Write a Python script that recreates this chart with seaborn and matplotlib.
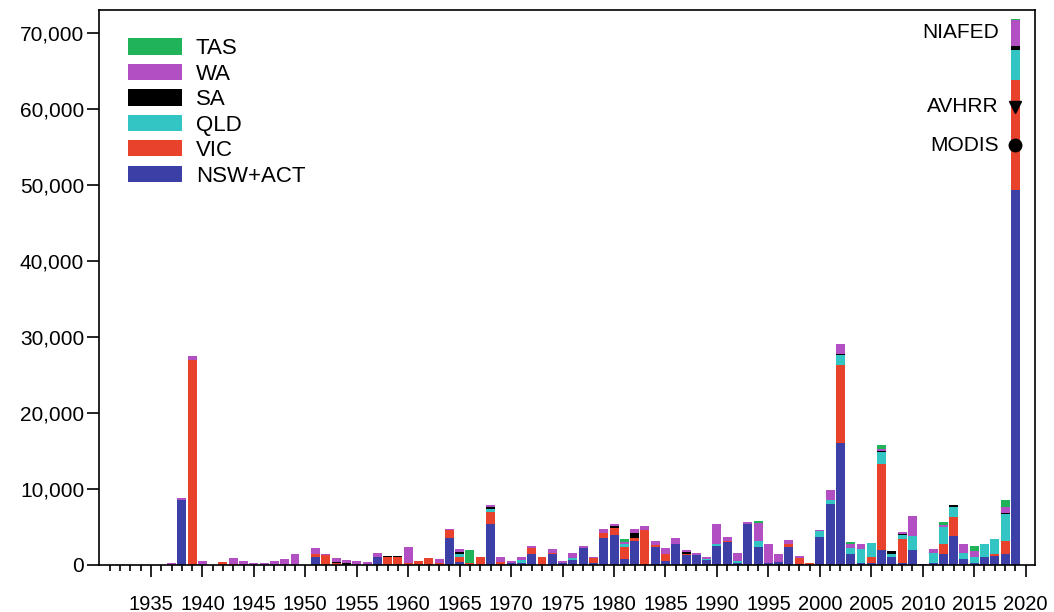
"""
Annual burned area by state, 1931-2019, stacked bars with the 2019 satellite estimates.
"""

import matplotlib
matplotlib.use("Agg")
import matplotlib.pyplot as plt
import numpy as np
import pandas as pd
import seaborn as sns
from matplotlib.patches import Patch
from matplotlib.ticker import FuncFormatter, MultipleLocator


YEARS = list(range(1931, 2020))

# area per year (same order as YEARS), rows are decades starting at 1931
NSW_ACT = [
    0, 0, 0, 0, 0, 0, 0, 8600, 0,
    0, 0, 0, 0, 0, 0, 0, 0, 0, 0,
    0, 1100, 0, 0, 0, 0, 0, 1000, 0, 0,
    0, 0, 0, 0, 3600, 400, 0, 0, 5400, 0,
    300, 200, 1500, 0, 1400, 300, 600, 2200, 200, 3600,
    3900, 800, 3200, 0, 2400, 500, 2700, 1300, 1300, 600,
    2500, 3000, 200, 5400, 2400, 300, 400, 2400, 100, 0,
    3700, 8000, 16000, 1400, 300, 300, 2000, 1100, 200, 2000,
    100, 200, 1500, 3800, 800, 200, 1000, 1200, 1400, 49300,
]
VIC = [
    0, 0, 0, 0, 0, 0, 0, 0, 26900,
    0, 0, 350, 150, 0, 0, 0, 0, 0, 0,
    0, 400, 1300, 200, 0, 0, 0, 100, 1000, 1000,
    300, 500, 900, 200, 1000, 700, 300, 1000, 1550, 400,
    0, 0, 700, 1100, 200, 0, 0, 0, 700, 600,
    1000, 1600, 400, 4600, 200, 1000, 0, 200, 0, 0,
    0, 200, 0, 0, 0, 0, 0, 300, 800, 250,
    0, 0, 10300, 0, 0, 700, 11300, 0, 3200, 0,
    0, 0, 1300, 2500, 0, 0, 0, 300, 1800, 14500,
]
QLD = [
    0, 0, 0, 0, 0, 0, 0, 0, 0,
    0, 0, 0, 0, 0, 0, 0, 0, 0, 0,
    0, 0, 0, 0, 0, 0, 0, 0, 0, 0,
    0, 0, 0, 0, 0, 400, 0, 0, 400, 0,
    0, 500, 0, 0, 0, 0, 300, 0, 0, 0,
    0, 400, 0, 0, 0, 0, 0, 0, 0, 200,
    300, 0, 300, 0, 800, 0, 0, 0, 0, 0,
    800, 600, 1300, 900, 1800, 1900, 1500, 300, 500, 1800,
    0, 1400, 2200, 1300, 800, 900, 1700, 1900, 3500, 4000,
]
SA = [
    0, 0, 0, 0, 0, 0, 0, 0, 0,
    0, 0, 0, 0, 0, 0, 0, 0, 0, 0,
    0, 0, 0, 200, 250, 0, 0, 0, 150, 150,
    0, 0, 0, 0, 0, 200, 0, 0, 250, 0,
    0, 0, 0, 0, 0, 0, 0, 0, 0, 0,
    200, 0, 600, 0, 0, 0, 0, 200, 0, 0,
    0, 0, 0, 0, 0, 0, 0, 0, 0, 0,
    0, 0, 200, 0, 0, 0, 200, 400, 200, 0,
    0, 0, 0, 300, 0, 0, 0, 0, 200, 500,
]
WA = [
    0, 0, 0, 0, 0, 0, 300, 250, 600,
    500, 0, 80, 800, 500, 250, 200, 570, 800, 1450,
    0, 700, 100, 550, 450, 500, 450, 500, 0, 0,
    2100, 0, 0, 600, 100, 400, 0, 0, 300, 600,
    200, 400, 300, 0, 500, 200, 700, 300, 200, 500,
    300, 200, 500, 500, 600, 700, 800, 300, 300, 200,
    2600, 500, 1100, 300, 2300, 2400, 1000, 600, 300, 0,
    100, 1200, 1300, 500, 600, 0, 300, 0, 300, 2600,
    0, 500, 300, 0, 1100, 800, 0, 0, 700, 3400,
]
TAS = [
    0, 0, 0, 0, 0, 0, 0, 0, 0,
    0, 0, 0, 0, 0, 0, 0, 0, 0, 0,
    0, 0, 0, 0, 0, 0, 0, 0, 0, 0,
    0, 0, 0, 0, 0, 0, 1700, 0, 0, 0,
    0, 0, 0, 0, 0, 0, 0, 0, 0, 0,
    0, 400, 0, 0, 0, 0, 0, 0, 0, 0,
    0, 0, 0, 0, 300, 0, 0, 0, 0, 0,
    0, 0, 0, 200, 0, 0, 500, 0, 0, 0,
    0, 0, 300, 0, 0, 600, 0, 0, 1000, 100,
]

# legend order; the last one ends up at the bottom of each stack
STATES = ["TAS", "WA", "SA", "QLD", "VIC", "NSW+ACT"]
COLORS = ["#21b35a", "#b24fc2", "#000000", "#33c4c4", "#e8412c", "#3b3fa6"]

SENSOR_YEAR = 2019
SENSORS = ["AVHRR", "MODIS"]
SENSOR_VALUES = [60300, 55200]
SENSOR_MARKERS = ["v", "o"]


def main() -> None:
    series = {
        "TAS": TAS,
        "WA": WA,
        "SA": SA,
        "QLD": QLD,
        "VIC": VIC,
        "NSW+ACT": NSW_ACT,
    }
    df = pd.concat(
        [pd.DataFrame({"year": YEARS, "state": name, "area": vals}) for name, vals in series.items()],
        ignore_index=True,
    )

    sns.set_theme(style="ticks")
    plt.rcParams["font.family"] = ["Liberation Sans", "DejaVu Sans"]
    plt.rcParams["text.color"] = "black"
    plt.rcParams["xtick.labelcolor"] = "black"
    plt.rcParams["ytick.labelcolor"] = "black"

    fig = plt.figure(figsize=(10.54, 6.12), dpi=100)
    ax = fig.add_axes([0.0939, 0.0768, 0.888, 0.9069])

    sns.histplot(
        data=df,
        x="year",
        weights="area",
        hue="state",
        hue_order=STATES,
        palette=COLORS,
        multiple="stack",
        discrete=True,
        shrink=0.87,
        alpha=1,
        linewidth=0,
        legend=False,
        ax=ax,
    )

    # NIAFED total for the last year, then the two satellite estimates
    total_last = df[df["year"] == SENSOR_YEAR]["area"].sum()
    ax.annotate("NIAFED", (SENSOR_YEAR, total_last), xytext=(-12, -3), textcoords="offset points",
                ha="right", va="top", fontsize=15, color="black")
    for name, val, mk in zip(SENSORS, SENSOR_VALUES, SENSOR_MARKERS):
        ax.plot([SENSOR_YEAR], [val], marker=mk, color="black", markersize=9, linestyle="none")
        ax.annotate(name, (SENSOR_YEAR, val), xytext=(-12, 0), textcoords="offset points",
                    ha="right", va="center", fontsize=15, color="black")

    ax.set_xlim(1929.95, 2020.9)
    ax.set_ylim(0, 73000)
    ax.set_xlabel("")
    ax.set_ylabel("")

    ax.set_xticks(np.arange(1935, 2021, 5))
    ax.set_xticks(np.arange(1931, 2020), minor=True)
    ax.yaxis.set_major_locator(MultipleLocator(10000))
    ax.yaxis.set_major_formatter(FuncFormatter(lambda v, _: f"{v:,.0f}"))

    ax.tick_params(axis="x", which="major", length=8.6, width=1.2, pad=13, labelsize=14.5, color="black")
    ax.tick_params(axis="x", which="minor", length=4.3, width=1.2, color="black")
    ax.tick_params(axis="y", which="major", length=8.6, width=1.2, pad=2, labelsize=15, color="black")
    for side in ["left", "right", "top", "bottom"]:
        ax.spines[side].set_visible(True)
        ax.spines[side].set_color("black")
        ax.spines[side].set_linewidth(1.2)

    handles = [Patch(facecolor=c, edgecolor="none", label=s) for s, c in zip(STATES, COLORS)]
    ax.legend(
        handles=handles,
        loc="upper left",
        bbox_to_anchor=(0.031, 0.949),
        frameon=False,
        fontsize=16,
        labelcolor="black",
        handlelength=2.45,
        handleheight=0.75,
        labelspacing=0.2,
        handletextpad=0.6,
        borderpad=0,
        borderaxespad=0,
    )

    fig.savefig("out.png", dpi=100)
    plt.close(fig)


if __name__ == "__main__":
    main()
